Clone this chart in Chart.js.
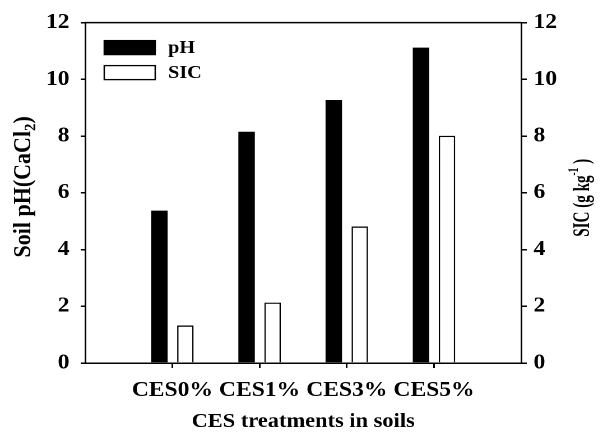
<!DOCTYPE html>
<html>
<head>
<meta charset="utf-8">
<script src="https://cdn.jsdelivr.net/npm/chart.js@4.4.0/dist/chart.umd.min.js"></script>
<style>
  html, body { margin: 0; padding: 0; background: #fff; }
  canvas { display: block; }
</style>
</head>
<body>
<canvas id="chartSuelo" width="538" height="432" style="width:603px;height:432px"></canvas>
<script>
var categorias = ['CES0%', 'CES1%', 'CES3%', 'CES5%'];
var valoresPH = [5.37, 8.15, 9.27, 11.12];
var valoresSIC = [1.32, 2.13, 4.81, 8.01];
var ticksY = [0, 2, 4, 6, 8, 10, 12];

var fuente = '"Liberation Serif", "Times New Roman", serif';

// an empty slot each side, as in the original figure
var etiquetas = [''].concat(categorias).concat(['']);
var datosPH = [null].concat(valoresPH).concat([null]);
var datosSIC = [null].concat(valoresSIC).concat([null]);

function ponerTicks(scale) {
    scale.ticks = ticksY.map(function (v) { return { value: v }; });
}

// rotated axis title with sub/superscript pieces
function tituloVertical(ctx, cx, cy, size, largo, partes) {
    ctx.save();
    ctx.translate(cx, cy);
    ctx.rotate(-Math.PI / 2);
    ctx.scale(largo, 1);
    ctx.textBaseline = 'middle';
    ctx.textAlign = 'left';
    var total = 0;
    partes.forEach(function (p) {
        ctx.font = 'bold ' + (size * (p.escala || 1)) + 'px ' + fuente;
        p.ancho = ctx.measureText(p.texto).width;
        total += p.ancho;
    });
    var x = -total / 2;
    partes.forEach(function (p) {
        ctx.font = 'bold ' + (size * (p.escala || 1)) + 'px ' + fuente;
        ctx.fillText(p.texto, x, (p.dy || 0) * size);
        x += p.ancho;
    });
    ctx.restore();
}

var leyendaPlugin = {
    id: 'leyenda',
    afterDraw: function (chart) {
        var ctx = chart.ctx;
        var area = chart.chartArea;
        ctx.save();
        ctx.strokeStyle = '#000';
        ctx.lineWidth = 1.5;
        ctx.beginPath();
        ctx.moveTo(area.left, area.top);
        ctx.lineTo(area.right, area.top);
        ctx.stroke();

        chart.data.datasets.forEach(function (ds, i) {
            var x = area.left + 17;
            var y = area.top + 18 + i * 25;
            ctx.fillStyle = ds.backgroundColor;
            ctx.fillRect(x, y, 45.5, 14);
            ctx.lineWidth = 1.3;
            ctx.strokeStyle = '#000';
            ctx.strokeRect(x, y, 45.5, 14);
            ctx.fillStyle = '#000';
            ctx.font = 'bold 18px ' + fuente;
            ctx.textBaseline = 'middle';
            ctx.textAlign = 'left';
            ctx.fillText(ds.label, x + 57, y + 7.5);
        });

        ctx.fillStyle = '#000';
        var medio = (area.top + area.bottom) / 2;
        tituloVertical(ctx, area.left - 54.5, medio - 6, 22, 1, [
            { texto: 'Soil pH(CaCl' },
            { texto: '2', escala: 0.68, dy: 0.28 },
            { texto: ')' }
        ]);
        tituloVertical(ctx, area.right + 55, medio + 5, 21, 0.72, [
            { texto: 'SIC (g kg' },
            { texto: '-1', escala: 0.62, dy: -0.38 },
            { texto: ' )' }
        ]);
        ctx.restore();
    }
};

var ctx = document.getElementById('chartSuelo').getContext('2d');
Chart.defaults.color = '#000';

new Chart(ctx, {
    type: 'bar',
    data: {
        labels: etiquetas,
        datasets: [{
            label: 'pH',
            data: datosPH,
            yAxisID: 'y',
            backgroundColor: '#000',
            borderColor: '#000',
            borderWidth: 0,
            barPercentage: 0.634,
            categoryPercentage: 0.596
        }, {
            label: 'SIC',
            data: datosSIC,
            yAxisID: 'y1',
            backgroundColor: '#fff',
            borderColor: '#000',
            borderWidth: 1.3,
            barPercentage: 0.634,
            categoryPercentage: 0.596
        }]
    },
    options: {
        responsive: false,
        devicePixelRatio: 2,
        animation: false,
        layout: { padding: { top: 19, left: 0, right: 0, bottom: 0 } },
        plugins: {
            legend: { display: false },
            tooltip: { enabled: false }
        },
        scales: {
            x: {
                offset: false,
                afterFit: function (scale) { scale.height = 69; },
                grid: {
                    offset: false,
                    drawOnChartArea: false,
                    tickLength: 5,
                    lineWidth: 1.5,
                    color: function (c) {
                        return (c.index === 0 || c.index === etiquetas.length - 1) ? 'rgba(0,0,0,0)' : '#000';
                    }
                },
                border: { color: '#000', width: 1.5 },
                ticks: {
                    maxRotation: 0,
                    autoSkip: false,
                    padding: 10,
                    font: { family: fuente, size: 21, weight: 'bold' }
                },
                title: {
                    display: true,
                    text: 'CES treatments in soils',
                    font: { family: fuente, size: 20, weight: 'bold', lineHeight: 1 },
                    padding: { top: 0, bottom: 0 }
                }
            },
            y: {
                position: 'left',
                min: 0,
                max: 12,
                afterBuildTicks: ponerTicks,
                afterFit: function (scale) { scale.width = 76; },
                grid: { drawOnChartArea: false, tickLength: 4, lineWidth: 1.5, color: '#000' },
                border: { color: '#000', width: 1.5 },
                ticks: {
                    padding: 10,
                    font: { family: fuente, size: 21, weight: 'bold' }
                }
            },
            y1: {
                position: 'right',
                min: 0,
                max: 12,
                afterBuildTicks: ponerTicks,
                afterFit: function (scale) { scale.width = 73; },
                grid: { drawOnChartArea: false, tickLength: 5, lineWidth: 1.5, color: '#000' },
                border: { color: '#000', width: 1.5 },
                ticks: {
                    padding: 6,
                    font: { family: fuente, size: 21, weight: 'bold' }
                }
            }
        }
    },
    plugins: [leyendaPlugin]
});
</script>
</body>
</html>
